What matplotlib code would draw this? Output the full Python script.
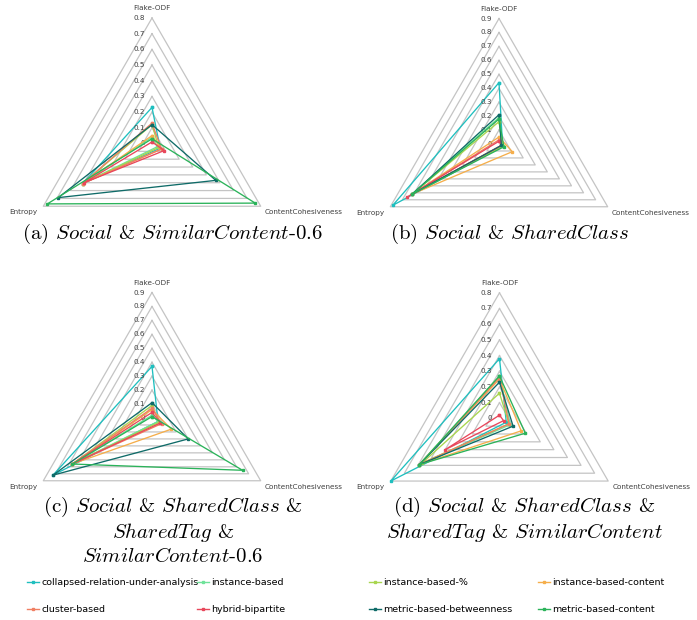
import numpy as np
import matplotlib.pyplot as plt
from matplotlib.lines import Line2D

plt.rcParams['mathtext.fontset'] = 'cm'
plt.rcParams['axes.unicode_minus'] = False

# axes of the radar (clockwise from top)
axes_names = ['Flake-ODF', 'ContentCohesiveness', 'Entropy']

series = ['collapsed-relation-under-analysis', 'instance-based', 'instance-based-%',
          'instance-based-content', 'cluster-based', 'hybrid-bipartite',
          'metric-based-betweenness', 'metric-based-content']
colors = ['#1FBFBF', '#6FE39A', '#A8D64E', '#F5AE4B', '#F07F62', '#E8475B',
          '#0F6B68', '#2BB35A']

# (a) Social & SimilarContent-0.6
flake_a = [0.23, 0.04, 0.12, 0.05, 0.13, 0.01, 0.12, 0.03]
content_a = [0.06, 0.04, 0.05, 0.07, 0.07, 0.09, 0.47, 0.76]
entropy_a = [0.51, 0.51, 0.51, 0.51, 0.51, 0.50, 0.69, 0.77]

# (b) Social & SharedClass
flake_b = [0.44, 0.19, 0.16, 0.05, 0.03, 0.02, 0.21, 0.18]
content_b = [0.03, 0.03, 0.03, 0.11, 0.02, 0.02, 0.02, 0.04]
entropy_b = [0.88, 0.72, 0.72, 0.72, 0.72, 0.76, 0.72, 0.72]

# (c) Social & SharedClass & SharedTag & SimilarContent-0.6
flake_c = [0.37, 0.02, 0.09, 0.06, 0.07, 0.04, 0.11, 0.01]
content_c = [0.05, 0.05, 0.06, 0.16, 0.08, 0.07, 0.30, 0.75]
entropy_c = [0.82, 0.66, 0.66, 0.66, 0.66, 0.66, 0.82, 0.66]

# (d) Social & SharedClass & SharedTag & SimilarContent
flake_d = [0.38, 0.27, 0.16, 0.25, 0.26, 0.02, 0.23, 0.27]
content_d = [0.05, 0.08, 0.07, 0.16, 0.07, 0.03, 0.10, 0.19]
entropy_d = [0.80, 0.59, 0.57, 0.59, 0.59, 0.40, 0.59, 0.59]

max_a, max_b, max_c, max_d = 0.8, 0.9, 0.9, 0.8

captions_a = [r'(a) $\mathit{Social}$ & $\mathit{SimilarContent}$-$\mathit{0.6}$']
captions_b = [r'(b) $\mathit{Social}$ & $\mathit{SharedClass}$']
captions_c = [r'(c) $\mathit{Social}$ & $\mathit{SharedClass}$ &',
              r'$\mathit{SharedTag}$ &',
              r'$\mathit{SimilarContent}$-$\mathit{0.6}$']
captions_d = [r'(d) $\mathit{Social}$ & $\mathit{SharedClass}$ &',
              r'$\mathit{SharedTag}$ & $\mathit{SimilarContent}$']

W, H = 697, 620
fig = plt.figure(figsize=(W / 100, H / 100), dpi=100)
R = 125.5  # outer ring radius in pixels
theta = np.radians([90, -30, 210])
lab_font = 'DejaVu Sans'


def radar(cx, cy, vmax, flake, content, entropy):
    s = R / vmax
    l, r, t, b = cx - 170, cx + 170, cy - 145, cy + 78
    ax = fig.add_axes([l / W, 1 - b / H, (r - l) / W, (b - t) / H])
    ax.set_xlim(-170 / s, 170 / s)
    ax.set_ylim(-78 / s, 145 / s)
    ax.axis('off')

    # triangular grid rings
    ticks = np.round(np.arange(0, vmax + 0.001, 0.1), 1)
    for v in ticks[1:]:
        xs = np.append(v * np.cos(theta), v * np.cos(theta[0]))
        ys = np.append(v * np.sin(theta), v * np.sin(theta[0]))
        ax.plot(xs, ys, color='#C4C4C4', lw=0.9, zorder=1)
    for v in ticks:
        ax.annotate('0' if v == 0 else f'{v:g}', (0, v), xytext=(-7, 0),
                    textcoords='offset pixels', ha='right', va='center',
                    fontsize=5.2, color='#404040', family=lab_font)

    # category labels
    ax.annotate(axes_names[0], (0, vmax), xytext=(0, 10), textcoords='offset pixels',
                ha='center', va='center', fontsize=5.2, color='#404040', family=lab_font)
    ax.annotate(axes_names[1], (vmax * np.cos(theta[1]), vmax * np.sin(theta[1])),
                xytext=(4, -6), textcoords='offset pixels', ha='left', va='center',
                fontsize=5.2, color='#404040', family=lab_font)
    ax.annotate(axes_names[2], (vmax * np.cos(theta[2]), vmax * np.sin(theta[2])),
                xytext=(-6, -6), textcoords='offset pixels', ha='right', va='center',
                fontsize=5.2, color='#404040', family=lab_font)

    for i, name in enumerate(series):
        vals = np.array([flake[i], content[i], entropy[i], flake[i]])
        ang = np.append(theta, theta[0])
        ax.plot(vals * np.cos(ang), vals * np.sin(ang), color=colors[i], lw=0.95,
                marker='s', ms=1.5, zorder=2 + i)
    return ax


radar(152, 143.5, max_a, flake_a, content_a, entropy_a)
radar(499, 144, max_b, flake_b, content_b, entropy_b)
radar(152, 418, max_c, flake_c, content_c, entropy_c)
radar(499.5, 418.3, max_d, flake_d, content_d, entropy_d)


def caption(x, y0, lines):
    for k, txt in enumerate(lines):
        fig.text(x / W, 1 - (y0 + 25 * k) / H, txt, ha='center', va='center',
                 fontsize=15, family='cmr10')


caption(173, 234, captions_a)
caption(510, 234, captions_b)
caption(173, 507, captions_c)
caption(524, 507, captions_d)

# legend: four columns, two rows
legend_x = [27, 197, 369, 538]
for c in range(4):
    idx = [c, c + 4]
    handles = [Line2D([], [], color=colors[i], lw=1.0, marker='s', ms=1.5) for i in idx]
    fig.legend(handles, [series[i] for i in idx], loc='upper left',
               bbox_to_anchor=(legend_x[c] / W, 1 - 578 / H), frameon=False,
               handlelength=1.3, handletextpad=0.2,
               labelspacing=1.9, borderpad=0, borderaxespad=0,
               prop={'family': lab_font, 'size': 6.8})

fig.savefig('out.png', dpi=100)
